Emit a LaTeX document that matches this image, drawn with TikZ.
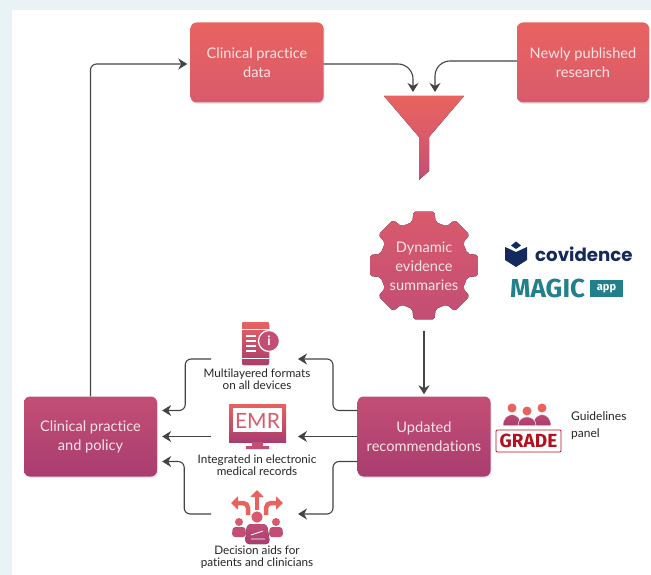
\documentclass[tikz,border=0pt]{standalone}
\usepackage{fontspec}
\setmainfont[Ligatures=NoCommon]{Lato}
\newfontfamily\logofont{Poppins}
\newfontfamily\gradefont{Fira Sans}
\usepackage{tikz}
\usetikzlibrary{arrows.meta}
\usetikzlibrary{shadows}
\definecolor{coral}{HTML}{E8635F}
\definecolor{rose}{HTML}{D95A6C}
\definecolor{berry}{HTML}{C24E74}
\definecolor{plum}{HTML}{A93D70}
\definecolor{linegray}{HTML}{444444}
\definecolor{navy}{HTML}{14295C}
\definecolor{teal}{HTML}{22808C}
\definecolor{graded}{HTML}{B3111F}
\definecolor{panelbg}{HTML}{E9F3F5}
\definecolor{boxtext}{HTML}{FAE4E4}

\begin{document}
\begin{tikzpicture}[x=1pt,y=-1pt,>={Stealth[length=9pt,width=11pt]},
    link/.style={->,draw=linegray,line width=1.1pt,rounded corners=6pt,shorten >=2pt},
    box node/.style={rectangle,rounded corners=6pt,minimum width=133pt,minimum height=80pt,align=center,text=boxtext,
      font=\fontsize{14.6}{19}\selectfont,drop shadow={shadow xshift=1pt,shadow yshift=-1.5pt,fill=black!18}},
    top node/.style={box node,top color=coral,bottom color=rose},
    low node/.style={box node,top color=berry,bottom color=plum},
    icon node/.style={rectangle,inner sep=0pt,outer sep=0pt,minimum width=87pt,minimum height=2pt},
    label node/.style={align=center,text=black!85,inner sep=0pt,font=\fontsize{11.7}{12}\selectfont},
    icon fill/.style={top color=coral,bottom color=plum}]
   \fill[panelbg] (0,0) rectangle (651,575);
   \fill[white] (12,10) rectangle (651,575);

   % boxes
   \node[top node] (data) at (257,62.5) {Clinical practice\\data};
   \node[top node,minimum width=132pt] (research) at (583,62.5) {Newly published\\research};
   \node[low node] (policy) at (90.5,436.5) {Clinical practice\\and policy};
   \node[low node] (updated) at (424,436.5) {Updated\\recommendations};

   % funnel
   \fill[top color=coral,bottom color=berry,middle color=rose] (384,96) -- (464,96) -- (429,137) -- (429,171) -- (419,180) -- (419,137) -- cycle;
   \coordinate (funnelL) at (413,92);
   \coordinate (funnelR) at (435,92);

   % gear
   \begin{scope}[shift={(424,265.5)}]
     \fill[top color=rose,bottom color=berry,rounded corners=2pt] (-15:45)
       \foreach \a in {0,45,...,315} { -- (\a-11:55) -- (\a+11:55) -- (\a+15:45) -- (\a+30:45) } -- cycle;
   \end{scope}
   \node[rectangle,minimum width=110pt,minimum height=130pt,align=center,text=boxtext,
     font=\fontsize{14.6}{19}\selectfont] (gear) at (424,266) {Dynamic\\evidence\\summaries};

   % logos
   \fill[navy] (505,247) -- (516,252) -- (527,247) -- (527,260) -- (516,267) -- (505,260) -- cycle;
   \fill[navy] (516,241.5) -- (521,245.5) -- (516,249) -- (511,245.5) -- cycle;
   \node[inner sep=0pt,text=navy,font=\logofont\bfseries\fontsize{18.2}{18}\selectfont,anchor=west] (covidence) at (535,254) {covidence};
   \node[inner sep=0pt,text=teal,font=\gradefont\bfseries\fontsize{26}{26}\selectfont,anchor=west] (magic) at (510,288.5) {MAGIC};
   \node[fill=teal,text=white,inner sep=0pt,minimum width=33pt,minimum height=17pt,text height=7pt,text depth=3pt,
     font=\gradefont\bfseries\fontsize{11}{11}\selectfont] (app) at (606.5,288.5) {app};

   % guidelines panel
   \foreach \x/\y in {512/408,542/408,527/411} {
     \fill[top color=berry,bottom color=plum,draw=white,line width=0.5pt] (\x-9,425.5) .. controls (\x-9,\y+3) and (\x+9,\y+3) .. (\x+9,425.5) -- cycle;
     \fill[coral] (\x,\y) circle (4.5pt);
   }
   \node[draw=graded,rounded corners=1pt,line width=0.8pt,text=graded,inner sep=0pt,minimum width=65pt,minimum height=22pt,
     font=\gradefont\bfseries\fontsize{19}{19}\selectfont] (grade) at (528.5,441) {GRADE};
   \node[label node,align=left,anchor=west,font=\fontsize{12}{17}\selectfont] (panel) at (571,426) {Guidelines\\panel};

   % device icon
   \fill[icon fill,rounded corners=2pt] (242,322) rectangle (269,365);
   \draw[white,line width=0.8pt] (242,329) -- (269,329) (242,358) -- (269,358);
   \draw[white,line width=2pt] (246,336) -- (256,336) (246,341) -- (256,341) (246,346) -- (256,346) (246,351) -- (256,351);
   \fill[berry,draw=white,line width=1.2pt] (269,341) circle (10.5pt);
   \node[text=white,inner sep=0pt,font=\bfseries\fontsize{13}{13}\selectfont] (info) at (269,341) {i};
   \node[label node] (multilabel) at (257,379) {Multilayered formats\\on all devices};

   % EMR icon
   \fill[icon fill] (229,404) rectangle (286,442);
   \fill[white] (233,408) rectangle (282,432);
   \fill[berry] (252,442) -- (263,442) -- (263,446) -- (269,446) -- (269,449) -- (246,449) -- (246,446) -- (252,446) -- cycle;
   \node[text=rose,inner sep=0pt,font=\fontsize{21}{21}\selectfont] (emrtext) at (257.5,420.5) {EMR};
   \node[label node] (emrlabel) at (257,465) {Integrated in electronic\\medical records};

   % decision icon
   \draw[coral,line width=4.5pt,-{Triangle[length=7pt,width=13pt]}] (257,510) -- (257,490);
   \draw[coral,line width=4.5pt,rounded corners=5pt,-{Triangle[length=7pt,width=13pt]}] (248,515) -- (248,503) -- (231,503);
   \draw[coral,line width=4.5pt,rounded corners=5pt,-{Triangle[length=7pt,width=13pt]}] (266,515) -- (266,503) -- (283,503);
   \fill[rose,draw=white,line width=0.8pt] (257,517) circle (6pt);
   \fill[top color=berry,bottom color=plum,rounded corners=4pt] (245,544) -- (247,524) -- (267,524) -- (270,544) -- cycle;
   \draw[white,line width=0.9pt] (251,535) -- (263,531) (251,539) -- (265,539);
   \foreach \x in {239,276} {
     \fill[rose] (\x,522) circle (4pt);
     \fill[berry,rounded corners=3pt] (\x-7,537) -- (\x-6.5,527) -- (\x+6.5,527) -- (\x+7,537) -- cycle;
   }
   \node[label node] (aidlabel) at (257,557.5) {Decision aids for\\patients and clinicians};

   % free ends beside the icons
   \node[icon node] (multi) at (254.5,359) {};
   \node[icon node] (emr) at (254.5,436.5) {};
   \node[icon node] (aid) at (254.5,514) {};

   % connectors
   \path[link,shorten >=3pt] (policy) |- ([yshift=-1.5pt]data.west);
   \path[link,rounded corners=15pt,shorten >=0pt] ([yshift=-1.5pt]data.east) -| (funnelL);
   \path[link,rounded corners=15pt,shorten >=0pt] ([yshift=1.5pt]research.west) -| (funnelR);
   \path[link] (gear) -- (updated);
   \path[link,shorten >=0pt] ([yshift=26pt]updated.west) -| ([xshift=35pt]multi.east) -- (multi.east);
   \path[link,shorten >=0pt] (updated) -- (emr);
   \path[link,shorten >=0pt] ([yshift=-25pt]updated.west) -| ([xshift=35pt]aid.east) -- (aid.east);
   \path[link,shorten >=5pt] (multi.west) -| ([xshift=28pt,yshift=26pt]policy.east) -- ([yshift=26pt]policy.east);
   \path[link,shorten >=5pt] (emr) -- (policy);
   \path[link,shorten >=5pt] (aid.west) -| ([xshift=27pt,yshift=-25pt]policy.east) -- ([yshift=-25pt]policy.east);
\end{tikzpicture}
\end{document}
